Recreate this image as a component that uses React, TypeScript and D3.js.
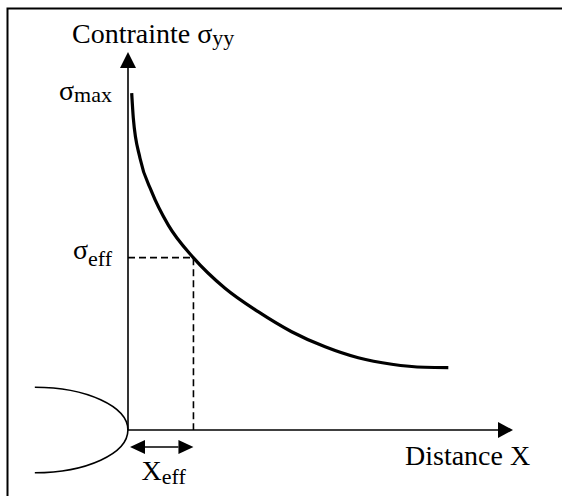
import * as d3 from "d3";

// curve (distance X, stress sigma_yy), arbitrary units 0..100
const distanceX = [0.96, 1.38, 3.12, 6.16, 10.47, 16.96, 25.2, 33.8, 42.5, 51.2, 59.8, 68.5, 77.1, 83.2];
const stressYY = [89.1, 82.5, 71.9, 63.0, 54.2, 45.6, 37.5, 31.3, 26.0, 22.0, 19.1, 17.4, 16.6, 16.5];

const xEff = 17;
const sigmaEff = 45.6;
const sigmaMax = 89.1;

// crack (half ellipse ending at the origin)
const crackLength = 24.2;
const crackHalfOpening = 11.3;

const width = 562;
const height = 496;
const font = "Liberation Serif";

export default function App() {
  const x = d3.scaleLinear().domain([0, 100]).range([128, 513]);
  const y = d3.scaleLinear().domain([0, 100]).range([430, 52]);

  const points: [number, number][] = distanceX.map((d, i) => [d, stressYY[i]]);
  const line = d3
    .line<[number, number]>()
    .x((d) => x(d[0]))
    .y((d) => y(d[1]))
    .curve(d3.curveMonotoneX);

  const x0 = x(0);
  const y0 = y(0);
  const crackX = x(-crackLength);
  const rx = x0 - crackX;
  const ry = y(0) - y(crackHalfOpening);
  const crackPath = `M${crackX},${y0 - ry} A${rx},${ry} 0 0 1 ${crackX},${y0 + ry}`;

  const arrowY = y0 + 17;
  const head = 15;
  const half = 7;

  return (
    <svg width={width} height={height} style={{ position: "absolute", left: 0, top: 0 }}>
      <style>{`text { font-family: "Liberation Serif", serif; }`}</style>
      {/* frame */}
      <path d={`M7.5,${height} V8.5 H${width}`} fill="none" stroke="#000" strokeWidth={2} />

      {/* axes */}
      <line x1={x0} y1={y0} x2={x0} y2={y(100) + 16} stroke="#000" strokeWidth={1.6} />
      <path d={`M${x0},${y(100)} L${x0 - 8},${y(100) + 16} L${x0 + 8},${y(100) + 16} Z`} fill="#000" />
      <line x1={x0} y1={y0} x2={x(100) - 15} y2={y0} stroke="#000" strokeWidth={1.6} />
      <path d={`M${x(100)},${y0} L${x(100) - 15},${y0 - 8} L${x(100) - 15},${y0 + 8} Z`} fill="#000" />

      {/* crack */}
      <path d={crackPath} fill="none" stroke="#000" strokeWidth={1.6} />

      {/* dashed guides */}
      <path
        d={`M${x0},${y(sigmaEff)} H${x(xEff)} V${y0}`}
        fill="none"
        stroke="#000"
        strokeWidth={1.6}
        strokeDasharray="7,4"
      />

      {/* stress curve */}
      <path d={line(points) ?? ""} fill="none" stroke="#000" strokeWidth={3.2} />

      {/* X_eff arrow */}
      <line x1={x0 + head} y1={arrowY} x2={x(xEff) - head} y2={arrowY} stroke="#000" strokeWidth={1.6} />
      <path d={`M${x0 + 2},${arrowY} L${x0 + 2 + head},${arrowY - half} L${x0 + 2 + head},${arrowY + half} Z`} fill="#000" />
      <path d={`M${x(xEff)},${arrowY} L${x(xEff) - head},${arrowY - half} L${x(xEff) - head},${arrowY + half} Z`} fill="#000" />

      {/* labels */}
      <text x={72} y={43} fontSize={28} fontFamily={font}>
        Contrainte σ<tspan fontSize={22} dy={2}>yy</tspan>
      </text>
      <text x={112} y={y(sigmaMax) + 6.5} fontSize={28} textAnchor="end" fontFamily={font}>
        σ<tspan fontSize={22} dy={2}>max</tspan>
      </text>
      <text x={112} y={y(sigmaEff) + 1.5} fontSize={28} textAnchor="end" fontFamily={font}>
        σ<tspan fontSize={22} dy={7}>eff</tspan>
      </text>
      <text x={405} y={465} fontSize={28} fontFamily={font}>
        Distance X
      </text>
      <text x={141.5} y={480} fontSize={28} fontFamily={font}>
        X<tspan fontSize={22} dy={4}>eff</tspan>
      </text>
    </svg>
  );
}
